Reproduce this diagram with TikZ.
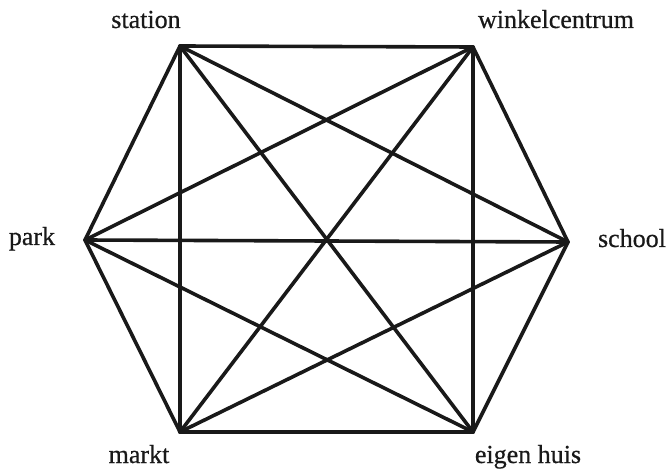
\documentclass[tikz,border=0pt]{standalone}
\usepackage{fontspec}
\setmainfont{Liberation Serif}
\newfontfamily\lblfont[FakeBold=0.6]{Liberation Serif}
\begin{document}
\begin{tikzpicture}[x=1pt,y=-1pt,
  edge/.style={line width=3.6pt,line join=round,line cap=round,black!90},
  lbl/.style={anchor=base,inner sep=0pt,font=\lblfont\fontsize{26}{30}\selectfont,black!90}]
\useasboundingbox (0,0) rectangle (669,470);
\coordinate (st) at (180,46);
\coordinate (wi) at (473,47);
\coordinate (pa) at (85,240);
\coordinate (sc) at (568,242);
\coordinate (ma) at (180,432);
\coordinate (ei) at (473,432);
\foreach \a/\b in {st/wi,st/pa,st/sc,st/ma,st/ei,wi/pa,wi/sc,wi/ma,wi/ei,pa/sc,pa/ma,pa/ei,sc/ma,sc/ei,ma/ei}
  \draw[edge] (\a) -- (\b);
\node[lbl] (lst) at (146,28) {station};
\node[lbl] (lwi) at (556,28) {winkelcentrum};
\node[lbl] (lpa) at (32,245) {park};
\node[lbl] (lsc) at (632,247) {school};
\node[lbl] (lma) at (139,463) {markt};
\node[lbl] (lei) at (528,463) {eigen huis};
\end{tikzpicture}
\end{document}
